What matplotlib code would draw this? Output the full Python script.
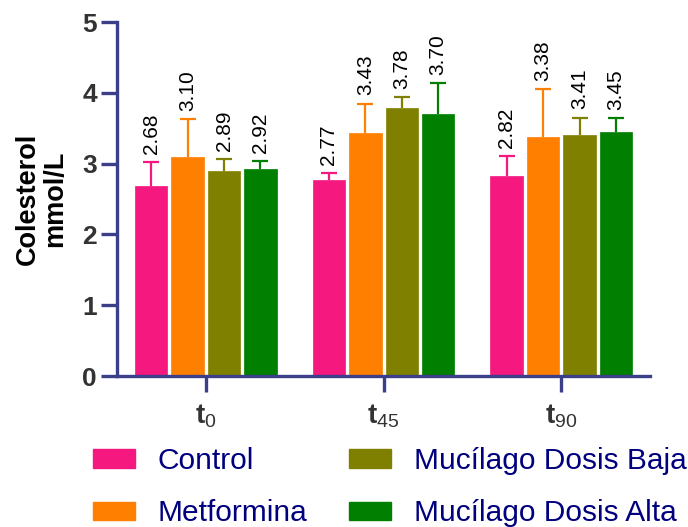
import matplotlib
matplotlib.use('Agg')
import matplotlib.pyplot as plt
import numpy as np
from matplotlib.patches import Patch

plt.rcParams['font.family'] = ['Liberation Sans', 'DejaVu Sans']
plt.rcParams['mathtext.fontset'] = 'custom'
plt.rcParams['mathtext.rm'] = 'Liberation Sans'
plt.rcParams['mathtext.bf'] = 'Liberation Sans:bold'

# datos
tiempos = [r'$\mathbf{t}_{\mathrm{0}}$', r'$\mathbf{t}_{\mathrm{45}}$', r'$\mathbf{t}_{\mathrm{90}}$']
grupos = ['Control', 'Metformina', 'Mucílago Dosis Baja', 'Mucílago Dosis Alta']
control = [2.68, 2.77, 2.82]
metformina = [3.10, 3.43, 3.38]
dosis_baja = [2.89, 3.78, 3.41]
dosis_alta = [2.92, 3.70, 3.45]
err_control = [0.34, 0.10, 0.29]
err_metformina = [0.53, 0.42, 0.67]
err_baja = [0.17, 0.16, 0.24]
err_alta = [0.12, 0.44, 0.19]

colores = ['#F5187F', '#FF7F00', '#808000', '#007F00']
eje = '#3B3F8A'

medias = [control, metformina, dosis_baja, dosis_alta]
errores = [err_control, err_metformina, err_baja, err_alta]

fig = plt.figure(figsize=(6.88, 5.27), dpi=100)
ax = fig.add_axes([0.170, 0.2865, 0.775, 0.6715])

x = np.arange(len(tiempos))
paso = 0.205
ancho = 0.183
for i in range(4):
    pos = x + (i - 1.5) * paso
    ax.bar(pos, medias[i], width=ancho, color=colores[i], edgecolor=colores[i], linewidth=0.5, zorder=2)
    eb = ax.errorbar(pos, medias[i], yerr=[np.zeros(3), errores[i]], fmt='none', ecolor=colores[i],
                     elinewidth=1.6, capsize=5.5, capthick=1.6, zorder=1)
    eb[1][0].set_visible(False)  # sin tapa inferior
    for xx, m, e in zip(pos, medias[i], errores[i]):
        ax.annotate('%.2f' % m, (xx, m + e), xytext=(0, 6), textcoords='offset points',
                    rotation=90, ha='center', va='bottom', fontsize=15, color='black')

ax.set_xlim(-0.5, 2.5)
ax.set_ylim(0, 5)
ax.set_yticks([0, 1, 2, 3, 4, 5])
ax.set_xticks(x)
ax.set_xticklabels(tiempos, fontsize=20, color='#333333')
ax.tick_params(axis='y', labelsize=19, labelcolor='#333333', colors=eje, length=11.5, width=2.4, pad=3)
ax.tick_params(axis='x', labelcolor='#333333', colors=eje, length=11.5, width=2.4, pad=7)
for lab in ax.get_yticklabels():
    lab.set_color('#333333')
    lab.set_fontweight('bold')

for s in ['top', 'right']:
    ax.spines[s].set_visible(False)
for s in ['left', 'bottom']:
    ax.spines[s].set_color(eje)
    ax.spines[s].set_linewidth(2.4)

ax.set_ylabel('Colesterol\nmmol/L', fontsize=19.5, fontweight='bold', color='black', linespacing=1.05)
ax.yaxis.set_label_coords(-0.092, 0.5)

handles = [Patch(facecolor=c, edgecolor=c) for c in colores]
fig.legend(handles, grupos, ncol=2, loc='upper left', bbox_to_anchor=(93 / 688, 1 - 447 / 527),
           frameon=False, fontsize=21.5, labelcolor='#00007F', borderpad=0, borderaxespad=0,
           handlelength=1.4, handleheight=0.57, handletextpad=0.77, columnspacing=1.4,
           labelspacing=0.82)

plt.savefig('out.png', dpi=100)
